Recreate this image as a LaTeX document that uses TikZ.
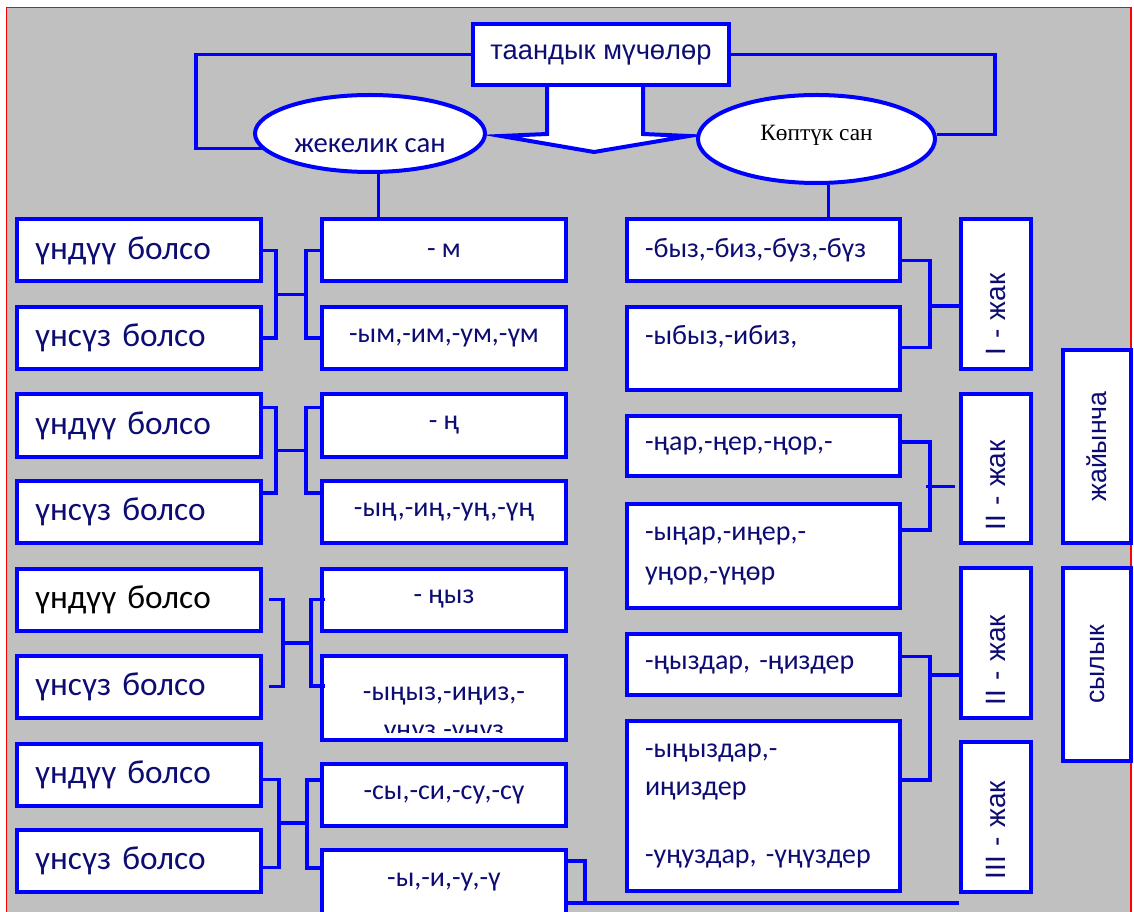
\documentclass[tikz,border=0pt]{standalone}
\usepackage{fontspec}
\setmainfont{Carlito}
\newfontfamily\headfont{Liberation Sans}
\newfontfamily\serfont{Liberation Serif}
\usetikzlibrary{shapes.geometric,calc}
\definecolor{boxblue}{RGB}{0,0,255}
\definecolor{txtnavy}{RGB}{12,12,115}
\definecolor{bggray}{RGB}{192,192,192}
\definecolor{frame}{RGB}{255,0,0}

\begin{document}
\begin{tikzpicture}[x=0.75pt,y=0.75pt,yscale=-1,xscale=1,
  box/.style={draw=boxblue, line width=3pt, fill=white, inner sep=0pt, text=txtnavy, font=\fontsize{21}{30}\selectfont},
  condbox/.style={box, minimum width=183pt, minimum height=46.5pt, text width=156pt, align=left, font=\fontsize{25}{30}\selectfont},
  sufbox/.style={box, minimum width=183pt, minimum height=46.5pt, align=center},
  plurbox/.style={box, minimum width=204.75pt, text width=177.75pt, align=left},
  jakbox/.style={box, rotate=90, minimum width=112pt, minimum height=52.5pt, text width=93pt, align=left, font=\headfont\fontsize{21}{25}\selectfont},
  sidebox/.style={box, rotate=90, minimum width=144.75pt, minimum height=51pt, align=center, font=\headfont\fontsize{20}{24}\selectfont},
  oval/.style={ellipse, draw=boxblue, line width=3pt, fill=white, inner sep=0pt},
  link/.style={draw=boxblue, line width=2.5pt},
]
\useasboundingbox (0,0) rectangle (1134,912);

%Shape: Rectangle [background]
\fill [bggray] (6,7) rectangle (1131,920);
\draw [frame, line width=1.2pt] (6.5,920) -- (6.5,7.5) -- (1131,7.5) -- (1131,920);

%Shape: Down Arrow
\draw [boxblue, line width=3pt, fill=white, line join=miter] (547,80) -- (547,134) -- (501,136) -- (594,152) -- (689,136) -- (643,134) -- (643,80);

% Title and the two ovals
\node [box, minimum width=192pt, minimum height=45.75pt, font=\headfont\fontsize{20.5}{24}\selectfont] (title) at (601,54.5) {таандык мүчөлөр};
\node [oval, minimum width=172.5pt, minimum height=57.75pt, text=txtnavy, text height=28pt, text depth=0pt, font=\fontsize{21.5}{24}\selectfont] (lell) at (370,133.5) {жекелик сан};
\node [oval, minimum width=177.75pt, minimum height=66pt, text=black, text height=12pt, text depth=10pt, font=\serfont\fontsize{17.5}{20}\selectfont] (rell) at (816.5,139) {Көптүк сан};

% Left column
\node [condbox] (l1) at (139,250.5) {үндүү болсо};
\node [condbox] (l2) at (139,338) {үнсүз болсо};
\node [condbox] (l3) at (139,425.5) {үндүү болсо};
\node [condbox] (l4) at (139,512) {үнсүз болсо};
\node [condbox, text=black] (l5) at (139,599.5) {үндүү болсо};
\node [condbox] (l6) at (139,686.5) {үнсүз болсо};
\node [condbox] (l7) at (139,774.5) {үндүү болсо};
\node [condbox] (l8) at (139,860.5) {үнсүз болсо};

% Singular suffixes
\node [sufbox] (m1) at (444,250.5) {- м};
\node [sufbox] (m2) at (444,338) {-ым,-им,-ум,-үм};
\node [sufbox] (m3) at (444,425.5) {- ң};
\node [sufbox] (m4) at (444,512) {-ың,-иң,-уң,-үң};
\node [sufbox] (m5) at (444,599.5) {- ңыз};
\node [sufbox, minimum height=63pt] (m6) at (444,698) {};
\begin{scope}
\clip (324,660) rectangle (564,732);
\node [text=txtnavy, align=center, inner sep=0pt, font=\fontsize{21}{28.5}\selectfont] (m6txt) at (444,715) {-ыңыз,-иңиз,-\\уңуз,-үңүз};
\end{scope}
\node [sufbox] (m7) at (444,795) {-сы,-си,-су,-сү};
\node [sufbox, minimum height=48pt] (m8) at (444,882) {-ы,-и,-у,-ү};

% Plural suffixes
\node [plurbox, minimum height=46.5pt] (r1) at (763.5,250.5) {-быз,-биз,-буз,-бүз};
\node [plurbox, minimum height=62.25pt] (r2) at (763.5,348.5) {-ыбыз,-ибиз,\\[-18pt]\strut};
\node [plurbox, minimum height=45pt] (r3) at (763.5,446) {-ңар,-ңер,-ңор,-};
\node [plurbox, minimum height=78pt] (r4) at (763.5,556) {-ыңар,-иңер,-\\уңор,-үңөр};
\node [plurbox, minimum height=45.75pt] (r5) at (763.5,664.5) {-ңыздар, -ңиздер};
\node [plurbox, minimum height=127.5pt, font=\fontsize{21}{29}\selectfont] (r6) at (763.5,806) {-ыңыздар,-\\иңиздер\\[22pt]-уңуздар, -үңүздер};

% Person boxes
\node [jakbox] (j1) at (996,294) {I - жак};
\node [jakbox] (j2) at (996,468.5) {II - жак};
\node [jakbox] (j3) at (996,643) {II - жак};
\node [jakbox] (j4) at (996,817) {III - жак};
\node [sidebox] (s1) at (1097,446.5) {жайынча};
\node [sidebox] (s2) at (1097,664.5) {сылык};

% Connectors: title to ovals
\draw [link] (title.west) -- ++(-275,0) |- (lell.188);
\draw [link] (title.east) -- ++(264,0) |- (rell.2);
\draw [link] (lell.-78) -- (lell.-78 |- m1.north);
\draw [link] (rell.-75) -- (rell.-75 |- r1.north);

% Connectors: conditions to suffixes
\draw [link] (l1.east) -- ++(13,0) coordinate (a1) |- (l2.east);
\draw [link] (m1.west) -- ++(-14,0) coordinate (b1) |- (m2.west);
\draw [link] ($(a1)!.5!(a1 |- l2.east)$) -- ($(b1)!.5!(b1 |- m2.west)$);

\draw [link] ($(l3.east)+(0,-18)$) -- ++(13,0) coordinate (a2) |- ($(l4.east)+(0,-19)$);
\draw [link] ($(m3.west)+(0,-18)$) -- ++(-14,0) coordinate (b2) |- ($(m4.west)+(0,-19)$);
\draw [link] ($(a2)!.5!(a2 |- l4.east)+(0,-9)$) -- ++(30,0);

\draw [link] ($(l5.east)+(6,0)$) -- ++(14,0) coordinate (a3) |- ($(l6.east)+(6,0)$);
\draw [link] ($(m5.west)+(5,0)$) -- ++(-14,0) coordinate (b3) |- ($(m6.west)+(5,-12)$);
\draw [link] ($(a3)!.5!(a3 |- l6.east)$) -- ++(28,0);

\draw [link] ($(l7.east)+(0,5)$) -- ++(16,0) coordinate (a4) |- ($(l8.east)+(0,7)$);
\draw [link] ($(m7.west)+(0,-15)$) -- ++(-13,0) coordinate (b4) |- ($(m8.west)+(0,-14)$);
\draw [link] ($(a4)!.5!(a4 |- l8.east)+(0,3)$) -- ++(28,0);

% Connectors: plural suffixes to persons
\draw [link] ($(r1.east)+(0,10)$) -- ++(28,0) coordinate (c1) |- ($(r2.east)+(0,-1)$);
\draw [link] ($(j1.north)+(0,12)$) -- ++(-29,0);
\draw [link] ($(r3.east)+(-4,-4)$) -- ++(32,0) coordinate (c2) |- ($(r4.east)+(-4,-26)$);
\draw [link] ($(j2.north)+(-4,18)$) -- ++(-29,0);
\draw [link] ($(r5.east)+(0,-8)$) -- ++(28,0) coordinate (c3) |- ($(r6.east)+(0,-26)$);
\draw [link] ($(j3.north)+(0,32)$) -- ++(-29,0);
\draw [link] ($(m8.east)+(0,-21)$) -- ++(17,0) |- ($(m8.east)+(0,21)$);
\coordinate (m8b) at ($(m8.east)+(0,21)$);
\draw [link] (m8b) -- (m8b -| j4.north);

% Connectors: persons to side boxes
\draw [link] ($(j2.south)+(0,-11)$) -- ($(j2.south)+(0,-11)$ -| s1.north);
\draw [link] ($(j3.south)+(0,-10)$) -- ($(j3.south)+(0,-10)$ -| s2.north);

\end{tikzpicture}
\end{document}
